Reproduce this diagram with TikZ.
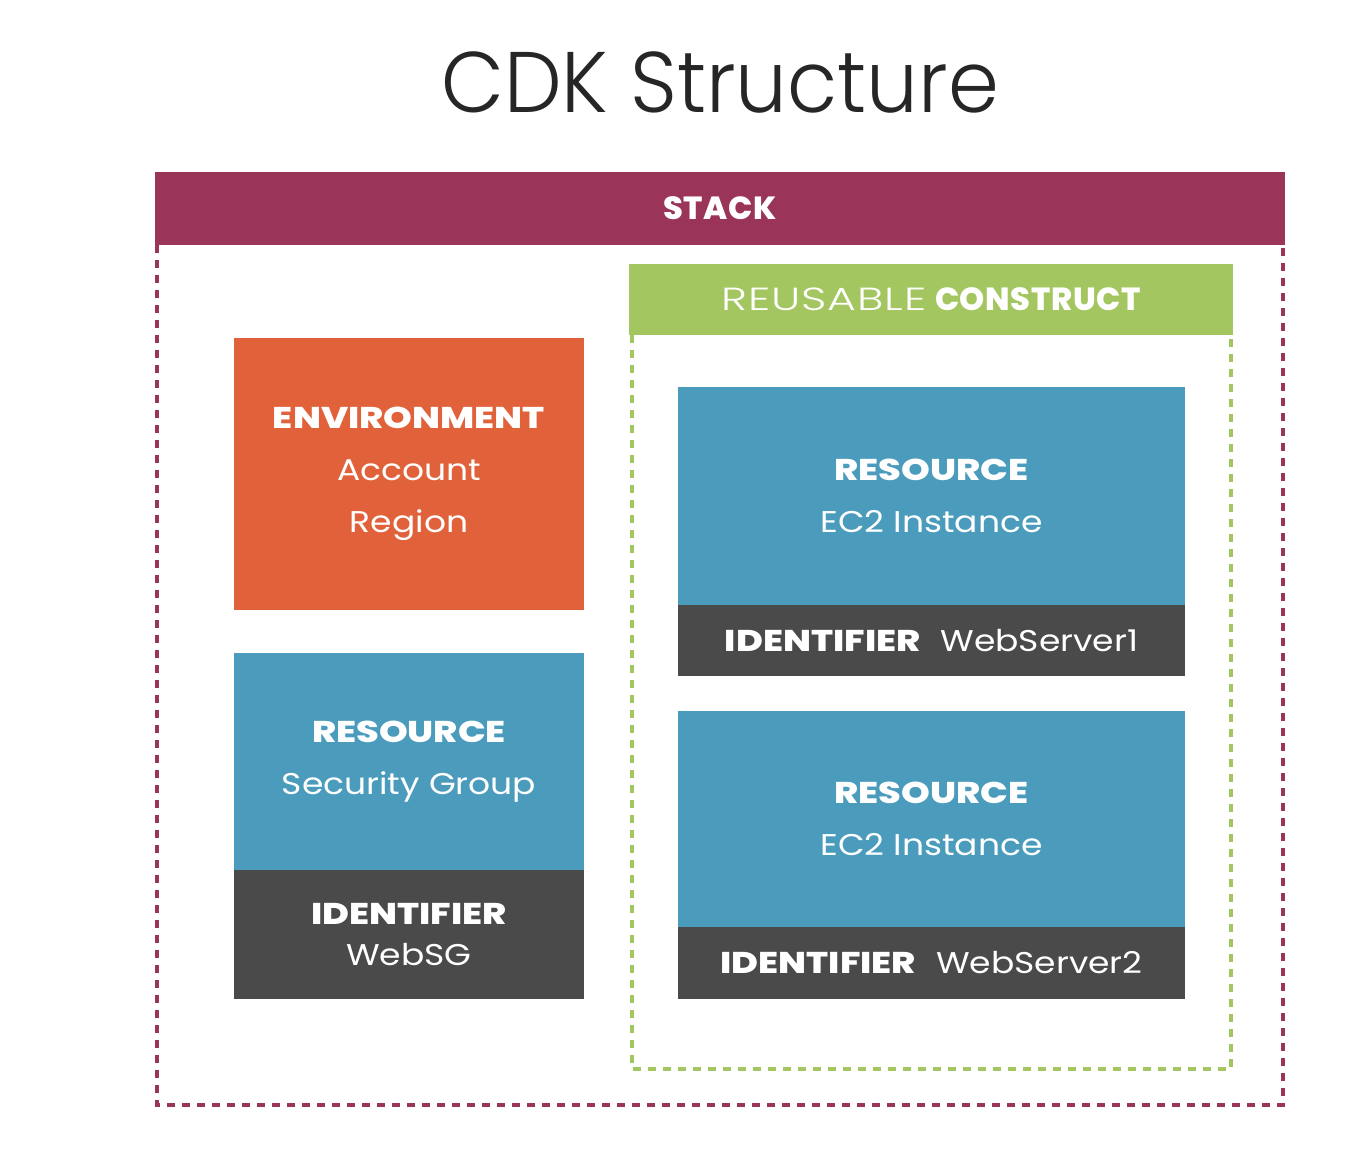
\documentclass[tikz,border=0pt]{standalone}
\usepackage{fontspec}
\setmainfont{Poppins}
\newfontfamily\titlefont{Poppins}[UprightFont=* Light, FakeStretch=0.95]
\newfontfamily\headlight{Poppins}[UprightFont=* Light, FakeStretch=1.38, LetterSpace=3]
\newfontfamily\headbold{Poppins}[UprightFont=* ExtraBold, LetterSpace=2]
\newfontfamily\bodyfont{Poppins}[FakeStretch=1.15]
\newfontfamily\bodybold{Poppins}[UprightFont=* ExtraBold, FakeStretch=1.22]
\definecolor{stackc}{HTML}{9A3459}
\definecolor{greenc}{HTML}{A4C660}
\definecolor{bluec}{HTML}{4A9BBC}
\definecolor{darkc}{HTML}{4A4A4A}
\definecolor{orangec}{HTML}{E0613A}
\begin{document}
\begin{tikzpicture}[x=1pt,y=-1pt,
  box/.style={inner sep=0pt,outer sep=0pt,text=white,align=center,draw=none},
  bodytxt/.style={font=\bodyfont\fontsize{30}{52}\selectfont},
  idtxt/.style={font=\bodyfont\fontsize{30}{41}\selectfont},
  stackdash/.style={draw=stackc,line width=3.5pt,dash pattern=on 8pt off 7pt},
  greendash/.style={draw=greenc,line width=3.5pt,dash pattern=on 8pt off 7pt}]
\useasboundingbox[fill=white] (0,0) rectangle (1366,1164);
\node[inner sep=0pt,text=black!85] (title) at (720,82) {\titlefont\fontsize{86}{90}\selectfont CDK Structure};
% stack
\coordinate (s1) at (157,245);
\coordinate (s2) at (157,1105);
\coordinate (s3) at (1283,1105);
\coordinate (s4) at (1283,245);
\draw[stackdash] (s1) -- (s2) -- (s3) -- (s4);
\node[box,fill=stackc,minimum width=1130pt,minimum height=73pt,font=\headbold\fontsize{32}{36}\selectfont] (stack) at (720,208.5) {STACK};
% construct
\coordinate (g1) at (632,335);
\coordinate (g2) at (632,1069);
\coordinate (g3) at (1231,1069);
\coordinate (g4) at (1231,335);
\draw[greendash] (g1) -- (g2) -- (g3) -- (g4);
\node[box,fill=greenc,minimum width=604pt,minimum height=71pt,font=\fontsize{32}{36}\selectfont] (construct) at (931,299.5) {{\headlight REUSABLE} {\headbold CONSTRUCT}};
% environment
\node[box,fill=orangec,minimum width=350pt,minimum height=272pt,bodytxt] (env) at (409,474) {{\bodybold ENVIRONMENT}\\Account\\Region};
% SG
\node[box,fill=bluec,minimum width=350pt,minimum height=217pt,bodytxt] (sg) at (409,761.5) {{\bodybold RESOURCE}\\Security Group};
\node[box,fill=darkc,minimum width=350pt,minimum height=129pt,idtxt] (sgid) at (409,934.5) {{\bodybold IDENTIFIER}\\WebSG};
% EC2 1
\node[box,fill=bluec,minimum width=507pt,minimum height=218pt,bodytxt] (ec1) at (931.5,496) {{\bodybold RESOURCE}\\EC2 Instance};
\node[box,fill=darkc,minimum width=507pt,minimum height=71pt,bodytxt] (ec1id) at (931.5,640.5) {{\bodybold IDENTIFIER}\hspace{20pt}WebServer1};
% EC2 2
\node[box,fill=bluec,minimum width=507pt,minimum height=216pt,bodytxt] (ec2) at (931.5,819) {{\bodybold RESOURCE}\\EC2 Instance};
\node[box,fill=darkc,minimum width=507pt,minimum height=72pt,bodytxt] (ec2id) at (931.5,963) {{\bodybold IDENTIFIER}\hspace{20pt}WebServer2};
\end{tikzpicture}
\end{document}
